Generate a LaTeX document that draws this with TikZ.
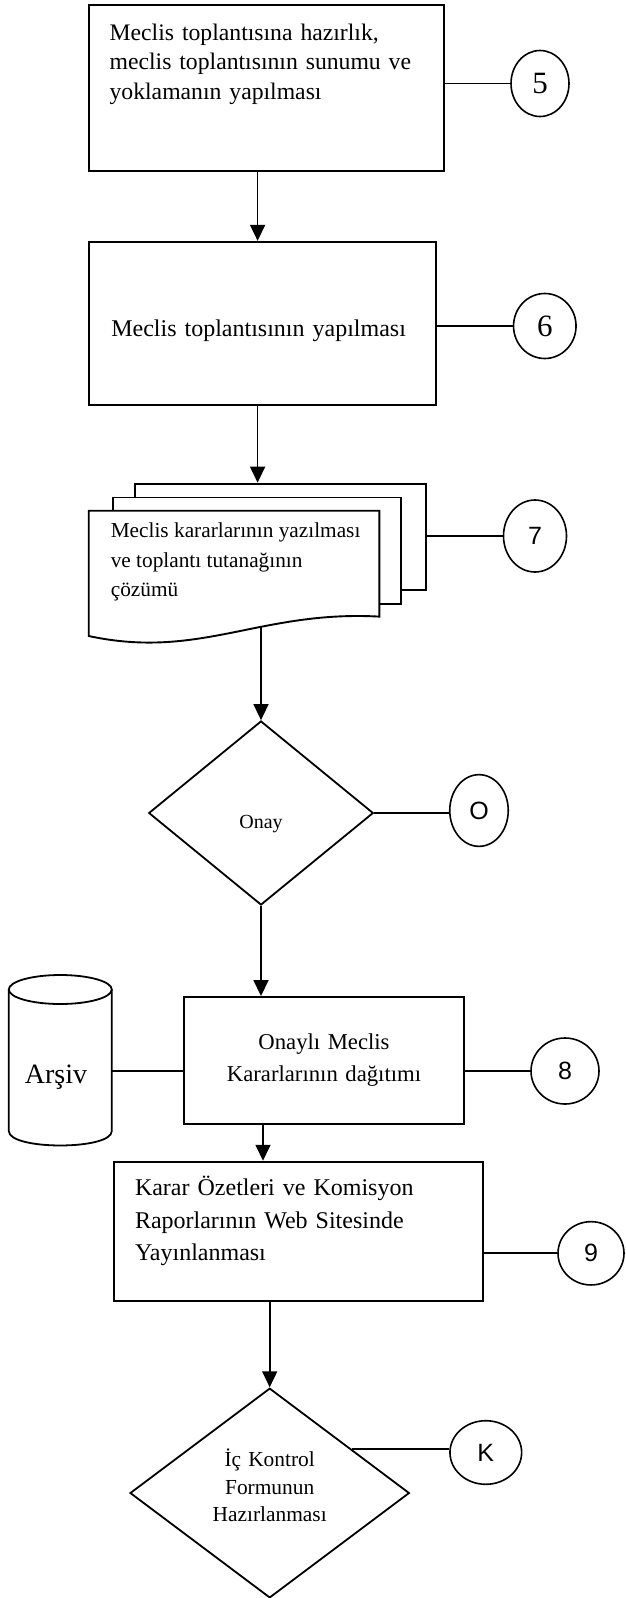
\documentclass[tikz,border=0pt]{standalone}
\usepackage{fontspec}
\setmainfont{Liberation Serif}
\newfontfamily\numfont{Liberation Sans}
\usetikzlibrary{shapes.geometric, arrows.meta, positioning}

\begin{document}
\begin{tikzpicture}[x=1pt, y=-1pt,
    procbox/.style={draw, line width=1.9pt, rectangle, inner sep=0pt},
    pagebox/.style={draw, line width=1.9pt, fill=white, rectangle, inner sep=0pt},
    decision/.style={draw, line width=1.8pt, diamond, inner sep=0pt},
    store/.style={line width=1.8pt},
    conn/.style={draw, line width=1.6pt, ellipse, inner sep=0pt, font=\numfont\fontsize{25}{25}\selectfont},
    connserif/.style={conn, font=\fontsize{31}{31}\selectfont},
    flow/.style={line width=1.7pt, -{Triangle[width=15pt, length=16pt]}},
    link/.style={line width=1.7pt}]
    \useasboundingbox (0,0) rectangle (626,1598);

    % main column
    \node[procbox, minimum width=355.2pt, minimum height=166.1pt, text width=313.4pt, align=left, text depth=112.7pt, font=\fontsize{23.7}{29.7}\selectfont] (b1) at (266.3,88.25) {Meclis toplantısına hazırlık,\\ meclis toplantısının sunumu ve\\ yoklamanın yapılması};
    \node[procbox, minimum width=347.2pt, minimum height=163.6pt, text width=302pt, align=left, text height=30pt, font=\fontsize{24}{30}\selectfont] (b2) at (262.3,323.6) {Meclis toplantısının yapılması};

    % document stack
    \node[pagebox, minimum width=291.7pt, minimum height=106.2pt] (pg1) at (280.55,536.7) {};
    \node[pagebox, minimum width=288pt, minimum height=106.9pt] (pg2) at (257,550.95) {};
    \draw[line width=1.9pt, fill=white] (88.7,510.7) -- (379.4,510.7) -- (379.4,616.6)
        .. controls (260,610) and (200,660) .. (88.7,636) -- cycle;
    \node[anchor=north west, align=left, inner sep=0pt, font=\fontsize{21.3}{29.6}\selectfont] (pg3txt) at (110.6,522.5) {Meclis kararlarının yazılması\\ ve toplantı tutanağının\\ çözümü};
    \coordinate (pgbot) at (261,627);

    \node[decision, minimum width=224.6pt, minimum height=184pt, text height=36pt, font=\fontsize{20}{24}\selectfont] (dec1) at (261,813) {Onay};

    % archive drum
    \draw[store] (60.3,989.5) ellipse [x radius=51.5, y radius=14.5];
    \draw[store] (8.8,989.5) -- (8.8,1131) .. controls (8.8,1150.3) and (111.8,1150.3) .. (111.8,1131) -- (111.8,989.5);
    \node[inner sep=0pt, font=\fontsize{28}{28}\selectfont] (arsivtxt) at (56,1077) {Arşiv};
    \coordinate (arsiv) at (111.8,1067.7);
    \node[procbox, minimum width=280.7pt, minimum height=126.6pt, text width=210pt, align=center, font=\fontsize{22.7}{32}\selectfont] (b8) at (324,1060.3) {Onaylı Meclis\\ Kararlarının dağıtımı};

    \node[procbox, minimum width=369.3pt, minimum height=139pt, text width=327.3pt, align=left, text depth=90pt, font=\fontsize{24}{32.5}\selectfont] (b9) at (298.65,1231.2) {Karar Özetleri ve Komisyon\\ Raporlarının Web Sitesinde\\ Yayınlanması};

    \node[decision, minimum width=279.3pt, minimum height=208.3pt, text width=122pt, align=center, text depth=70pt, font=\fontsize{21.4}{27.5}\selectfont] (dec2) at (269.7,1493) {İç Kontrol\\ Formunun\\ Hazırlanması};

    % connector circles
    \node[connserif, minimum width=58pt, minimum height=66pt] (c5) at (540,83.5) {5};
    \node[connserif, minimum width=62.5pt, minimum height=65pt] (c6) at (544.8,326) {6};
    \node[conn, minimum width=63pt, minimum height=72pt] (c7) at (535,536) {7};
    \node[conn, minimum width=58.5pt, minimum height=71.7pt] (cO) at (479,810.5) {O};
    \node[conn, minimum width=68pt, minimum height=66pt] (c8) at (565,1071) {8};
    \node[conn, minimum width=66pt, minimum height=63.3pt] (c9) at (591,1253.3) {9};
    \node[conn, minimum width=71.7pt, minimum height=63.6pt] (cK) at (485.8,1452.5) {K};

    % flow
    \coordinate (ax1) at (257.6,0);
    \coordinate (ax2) at (263,0);
    \draw[flow] (b1.south -| ax1) -- (b2.north -| ax1);
    \draw[flow] (b2.south -| ax1) -- (pg1.north -| ax1);
    \draw[flow] (pgbot) -- (dec1.north);
    \draw[flow] (dec1.south) -- (dec1.south |- b8.north);
    \draw[flow] (b8.south -| ax2) -- (b9.north -| ax2);
    \draw[flow] (b9.south -| dec2.north) -- (dec2.north);

    % links to circles
    \draw[link] (b1.east |- c5) -- (c5.west);
    \draw[link] (b2.east |- c6) -- (c6.west);
    \draw[link] (pg1.east |- c7) -- (c7.west);
    \draw[link] (dec1.east) -- (dec1.east -| cO.west);
    \draw[link] (arsiv |- c8) -- (b8.west |- c8);
    \draw[link] (b8.east |- c8) -- (c8.west);
    \draw[link] (b9.east |- c9) -- (c9.west);
    \draw[link] (dec2.28) -- (dec2.28 -| cK.west);
\end{tikzpicture}
\end{document}
